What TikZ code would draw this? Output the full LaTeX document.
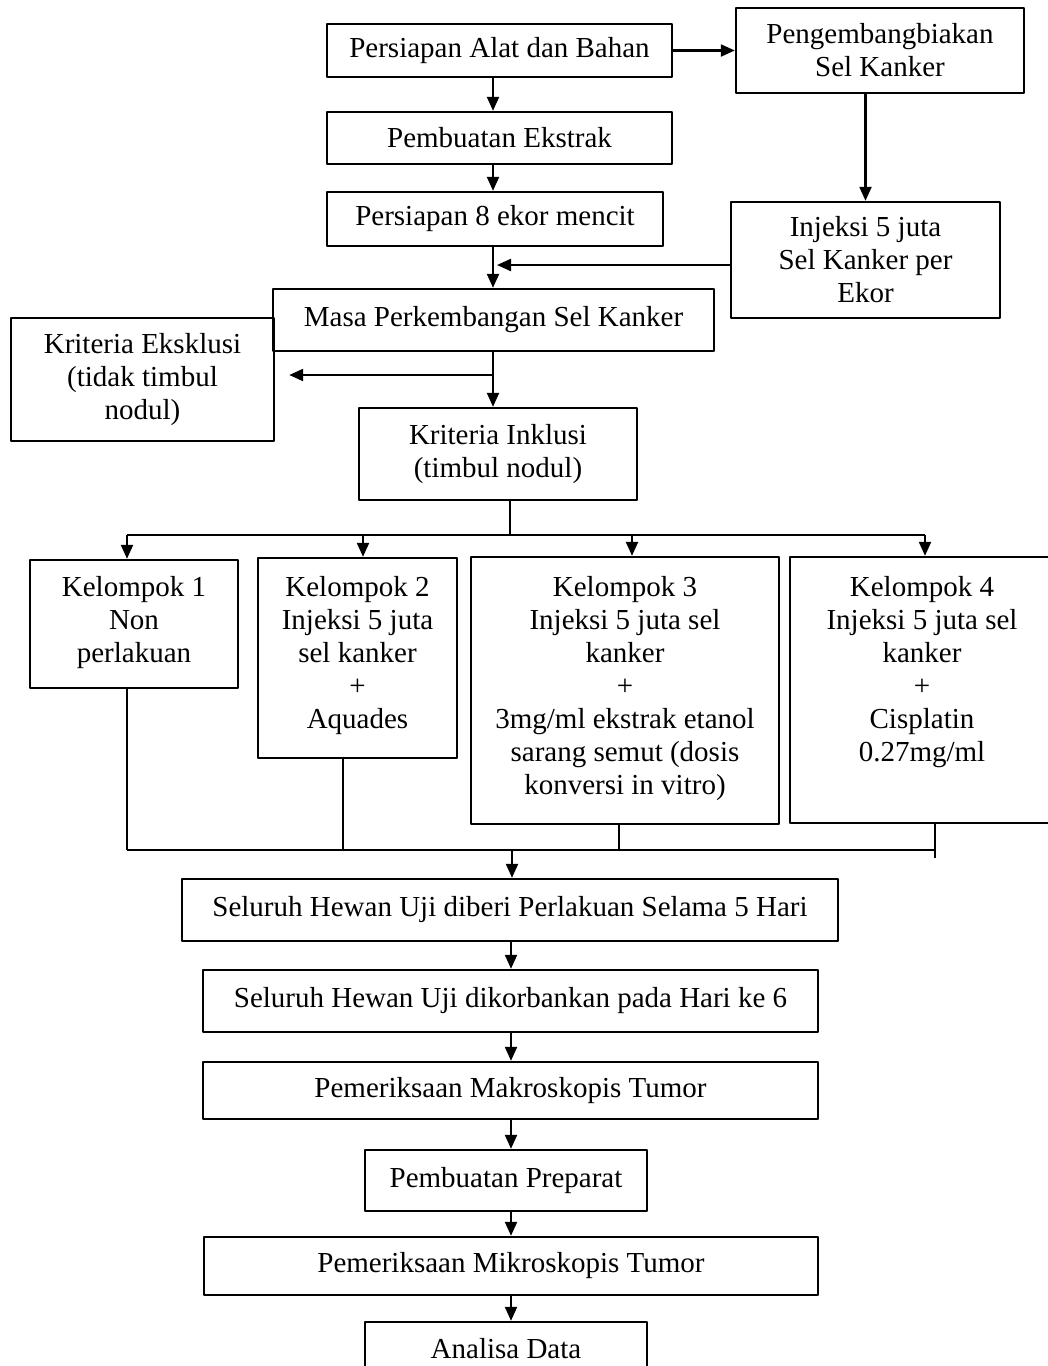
\documentclass[tikz,border=0pt]{standalone}
\usepackage{fontspec}
\setmainfont{Liberation Serif}
\usetikzlibrary{arrows.meta}
\tikzset{
  box/.style={draw, line width=1.2pt, align=center, inner sep=2pt, font=\fontsize{14.5}{16.5}\selectfont},
  grptext/.style={align=center, inner sep=0pt, anchor=north, font=\fontsize{14.5}{16.5}\selectfont},
  arr/.style={-{Triangle[length=7pt,width=6pt]}, line width=1.1pt},
  ln/.style={line width=1.1pt}
}
\begin{document}
\begin{tikzpicture}[x=0.5pt, y=-0.5pt, line join=round]
\useasboundingbox (0,0) rectangle (1048,1366);
% upper part
\node[box, minimum width=172.5pt, minimum height=26.5pt] (alat) at (499.5,50.5) {Persiapan Alat dan Bahan};
\node[box, minimum width=144pt, minimum height=42.5pt] (kembang) at (880,50.5) {Pengembangbiakan\\Sel Kanker};
\node[box, minimum width=172.5pt, minimum height=26pt] (ekstrak) at (499.5,138) {Pembuatan Ekstrak};
\node[box, minimum width=168pt, minimum height=27pt] (mencit) at (495,219) {Persiapan 8 ekor mencit};
\node[box, minimum width=134.5pt, minimum height=58pt] (injeksi) at (865.5,260) {Injeksi 5 juta\\Sel Kanker per\\Ekor};
\node[box, minimum width=220.5pt, minimum height=31pt] (masa) at (493.5,320) {Masa Perkembangan Sel Kanker};
\node[box, minimum width=131.5pt, minimum height=61.5pt] (eksklusi) at (142.5,379.5) {Kriteria Eksklusi\\(tidak timbul\\nodul)};
\node[box, minimum width=139pt, minimum height=46pt] (inklusi) at (498,454) {Kriteria Inklusi\\(timbul nodul)};
\coordinate (spine) at (493,0);
\coordinate (join) at (493,265);
\coordinate (split) at (493,375);
\draw[arr] (alat.east) -- (kembang.west |- alat.east);
\draw[arr] (alat.south -| spine) -- (ekstrak.north -| spine);
\draw[arr] (ekstrak.south -| spine) -- (mencit.north -| spine);
\draw[arr] (injeksi.north |- kembang.south) -- (injeksi.north);
\draw[arr] (mencit.south -| spine) -- (masa.north -| spine);
\draw[arr] (injeksi.west |- join) -- ([xshift=2pt]join);
\draw[arr] (masa.south -| spine) -- (inklusi.north -| spine);
\draw[arr] (split) -- ([xshift=7pt]eksklusi.east |- split);
% groups
\node[box, minimum width=104pt, minimum height=64pt] (k1) at (134,624) {};
\node[box, minimum width=99.5pt, minimum height=100pt] (k2) at (357.5,658) {};
\node[box, minimum width=154pt, minimum height=133.5pt] (k3) at (625,690.5) {};
\node[box, minimum width=134pt, minimum height=133pt] (k4) at (924,690) {};
\node[grptext] (k1t) at (134,576) {Kelompok 1\\Non\\perlakuan};
\node[grptext] (k2t) at (357.5,576) {Kelompok 2\\Injeksi 5 juta\\sel kanker\\+\\Aquades};
\node[grptext] (k3t) at (625,576) {Kelompok 3\\Injeksi 5 juta sel\\kanker\\+\\3mg/ml ekstrak etanol\\sarang semut (dosis\\konversi in vitro)};
\node[grptext] (k4t) at (922,576) {Kelompok 4\\Injeksi 5 juta sel\\kanker\\+\\Cisplatin\\0.27mg/ml};
\coordinate (bus) at (510,535);
\draw[ln] (inklusi.south -| bus) -- (bus);
\draw[ln] (127,535) -- (925,535);
\foreach \xx/\kk in {127/k1, 363/k2, 632/k3, 925/k4}{
  \coordinate (d\kk) at (\xx,535);
  \draw[arr] (d\kk) -- (d\kk |- \kk.north);
}
\foreach \xx/\kk in {127/k1, 343/k2, 619/k3, 935/k4}{
  \coordinate (u\kk) at (\xx,850);
  \draw[ln] (u\kk |- \kk.south) -- (u\kk);
}
\draw[ln] (uk4) -- ++(0,8);
\draw[ln] (uk1) -- (uk4);
% lower part
\node[box, minimum width=328pt, minimum height=31pt] (perlakuan) at (510,910) {Seluruh Hewan Uji diberi Perlakuan Selama 5 Hari};
\node[box, minimum width=307.5pt, minimum height=31pt] (korban) at (510.5,1001) {Seluruh Hewan Uji dikorbankan pada Hari ke 6};
\node[box, minimum width=307.5pt, minimum height=28.5pt] (makro) at (510.5,1090.5) {Pemeriksaan Makroskopis Tumor};
\node[box, minimum width=141pt, minimum height=30.5pt] (preparat) at (506,1180.5) {Pembuatan Preparat};
\node[box, minimum width=307pt, minimum height=29pt] (mikro) at (511,1266) {Pemeriksaan Mikroskopis Tumor};
\node[box, minimum width=141pt, minimum height=27pt] (analisa) at (506,1349) {Analisa Data};
\coordinate (axis) at (511,0);
\draw[arr] (512,850) -- (perlakuan.north -| 512,0);
\draw[arr] (perlakuan.south -| axis) -- (korban.north -| axis);
\draw[arr] (korban.south -| axis) -- (makro.north -| axis);
\draw[arr] (makro.south -| axis) -- (preparat.north -| axis);
\draw[arr] (preparat.south -| axis) -- (mikro.north -| axis);
\draw[arr] (mikro.south -| axis) -- (analisa.north -| axis);
\end{tikzpicture}
\end{document}
